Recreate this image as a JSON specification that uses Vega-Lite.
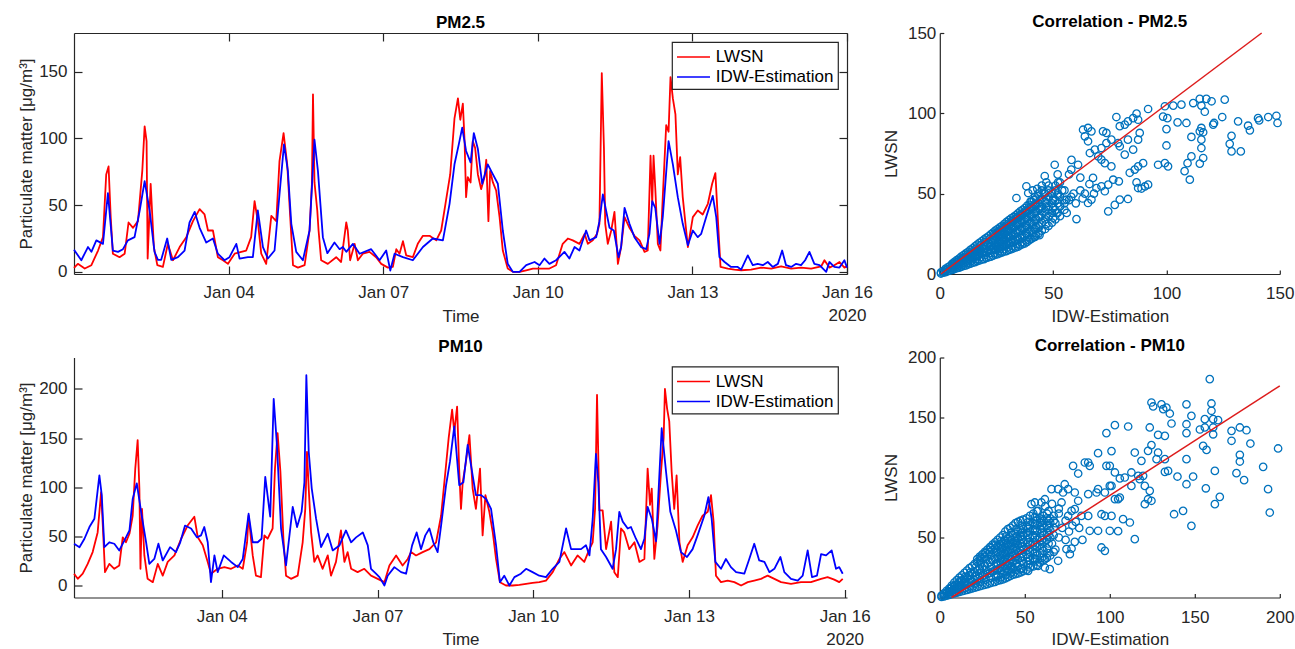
{
"$schema":"https://vega.github.io/schema/vega-lite/v6.json",
"padding":{"left":16,"top":13,"right":5,"bottom":5},
"background":"white",
"config":{
"font":"Liberation Sans",
"view":{"stroke":null},
"axis":{"grid":false,"domainColor":"#262626","domainWidth":1.2,"tickColor":"#262626","tickWidth":1.2,"tickSize":-8,"labelColor":"#262626","labelFont":"Liberation Sans","labelFontSize":17,"labelPadding":15,"labelFlush":false,"labelOverlap":false,"labelBound":false,"titleColor":"#262626","titleFont":"Liberation Sans","titleFontSize":17,"titleFontWeight":"normal"},
"title":{"font":"Liberation Sans","fontSize":17,"fontWeight":"bold","color":"#000000","anchor":"middle","baseline":"alphabetic","offset":7},
"legend":{"orient":"top-right","offset":9,"padding":4,"strokeColor":"#262626","strokeWidth":1.2,"fillColor":"#ffffff","labelFont":"Liberation Sans","labelFontSize":17,"labelColor":"#000000","symbolType":"M-1,0H2.3","symbolSize":400,"symbolStrokeWidth":1.7,"labelOffset":17.7,"rowPadding":1}
},
"datasets":{
"pm25":[
{"t":"2020-01-01T00:00","s":"LWSN","v":3},{"t":"2020-01-01T01:48","s":"LWSN","v":6},{"t":"2020-01-01T05:00","s":"LWSN","v":2.5},{"t":"2020-01-01T08:06","s":"LWSN","v":5},{"t":"2020-01-01T11:12","s":"LWSN","v":16},{"t":"2020-01-01T13:30","s":"LWSN","v":26},{"t":"2020-01-01T15:00","s":"LWSN","v":73},{"t":"2020-01-01T16:06","s":"LWSN","v":79},{"t":"2020-01-01T17:06","s":"LWSN","v":41},{"t":"2020-01-01T18:06","s":"LWSN","v":13.6},{"t":"2020-01-01T21:12","s":"LWSN","v":11},{"t":"2020-01-01T23:36","s":"LWSN","v":13.6},
{"t":"2020-01-02T01:24","s":"LWSN","v":37},{"t":"2020-01-02T03:30","s":"LWSN","v":33},{"t":"2020-01-02T05:48","s":"LWSN","v":38},{"t":"2020-01-02T07:48","s":"LWSN","v":75.7},{"t":"2020-01-02T08:54","s":"LWSN","v":109},{"t":"2020-01-02T09:48","s":"LWSN","v":98},{"t":"2020-01-02T10:18","s":"LWSN","v":10},{"t":"2020-01-02T11:42","s":"LWSN","v":66},{"t":"2020-01-02T13:12","s":"LWSN","v":18.6},{"t":"2020-01-02T14:48","s":"LWSN","v":5},{"t":"2020-01-02T17:24","s":"LWSN","v":3.7},{"t":"2020-01-02T19:42","s":"LWSN","v":21},{"t":"2020-01-02T22:06","s":"LWSN","v":8.7},
{"t":"2020-01-03T01:12","s":"LWSN","v":18.6},{"t":"2020-01-03T04:18","s":"LWSN","v":26},{"t":"2020-01-03T07:24","s":"LWSN","v":38},{"t":"2020-01-03T10:30","s":"LWSN","v":47},{"t":"2020-01-03T12:48","s":"LWSN","v":43},{"t":"2020-01-03T14:24","s":"LWSN","v":31},{"t":"2020-01-03T16:42","s":"LWSN","v":31},{"t":"2020-01-03T19:00","s":"LWSN","v":11},{"t":"2020-01-03T21:24","s":"LWSN","v":8.7},{"t":"2020-01-03T23:42","s":"LWSN","v":6},
{"t":"2020-01-04T02:48","s":"LWSN","v":13.6},{"t":"2020-01-04T05:54","s":"LWSN","v":15},{"t":"2020-01-04T08:12","s":"LWSN","v":16},{"t":"2020-01-04T10:30","s":"LWSN","v":26},{"t":"2020-01-04T12:06","s":"LWSN","v":53},{"t":"2020-01-04T13:36","s":"LWSN","v":38},{"t":"2020-01-04T15:12","s":"LWSN","v":13.6},{"t":"2020-01-04T17:30","s":"LWSN","v":6},{"t":"2020-01-04T19:54","s":"LWSN","v":42},{"t":"2020-01-04T22:12","s":"LWSN","v":38},{"t":"2020-01-04T23:42","s":"LWSN","v":83},
{"t":"2020-01-05T01:36","s":"LWSN","v":104},{"t":"2020-01-05T03:18","s":"LWSN","v":80.6},{"t":"2020-01-05T04:42","s":"LWSN","v":41},{"t":"2020-01-05T06:00","s":"LWSN","v":5},{"t":"2020-01-05T08:18","s":"LWSN","v":3.2},{"t":"2020-01-05T11:24","s":"LWSN","v":5},{"t":"2020-01-05T13:42","s":"LWSN","v":31},{"t":"2020-01-05T14:48","s":"LWSN","v":66},{"t":"2020-01-05T15:18","s":"LWSN","v":133},{"t":"2020-01-05T16:00","s":"LWSN","v":67},{"t":"2020-01-05T17:18","s":"LWSN","v":46},{"t":"2020-01-05T17:54","s":"LWSN","v":31},{"t":"2020-01-05T19:06","s":"LWSN","v":8.7},{"t":"2020-01-05T22:12","s":"LWSN","v":6},
{"t":"2020-01-06T02:06","s":"LWSN","v":11},{"t":"2020-01-06T04:24","s":"LWSN","v":7.4},{"t":"2020-01-06T06:48","s":"LWSN","v":37},{"t":"2020-01-06T07:30","s":"LWSN","v":31},{"t":"2020-01-06T08:36","s":"LWSN","v":8.7},{"t":"2020-01-06T10:42","s":"LWSN","v":21},{"t":"2020-01-06T12:12","s":"LWSN","v":8.7},{"t":"2020-01-06T14:30","s":"LWSN","v":13.6},{"t":"2020-01-06T17:36","s":"LWSN","v":15},{"t":"2020-01-06T20:42","s":"LWSN","v":11},{"t":"2020-01-06T23:06","s":"LWSN","v":6},
{"t":"2020-01-07T02:12","s":"LWSN","v":3.2},{"t":"2020-01-07T04:30","s":"LWSN","v":3.7},{"t":"2020-01-07T06:06","s":"LWSN","v":17},{"t":"2020-01-07T07:36","s":"LWSN","v":13.6},{"t":"2020-01-07T09:12","s":"LWSN","v":23},{"t":"2020-01-07T10:42","s":"LWSN","v":12.4},{"t":"2020-01-07T13:48","s":"LWSN","v":11},{"t":"2020-01-07T16:06","s":"LWSN","v":21},{"t":"2020-01-07T18:30","s":"LWSN","v":27},{"t":"2020-01-07T21:36","s":"LWSN","v":27},
{"t":"2020-01-08T00:42","s":"LWSN","v":23.6},{"t":"2020-01-08T03:00","s":"LWSN","v":31},{"t":"2020-01-08T05:00","s":"LWSN","v":51},{"t":"2020-01-08T07:12","s":"LWSN","v":73},{"t":"2020-01-08T09:12","s":"LWSN","v":115},{"t":"2020-01-08T10:48","s":"LWSN","v":130},{"t":"2020-01-08T11:54","s":"LWSN","v":114},{"t":"2020-01-08T13:06","s":"LWSN","v":126},{"t":"2020-01-08T13:54","s":"LWSN","v":98},{"t":"2020-01-08T14:36","s":"LWSN","v":56},{"t":"2020-01-08T15:24","s":"LWSN","v":71},{"t":"2020-01-08T16:42","s":"LWSN","v":67},{"t":"2020-01-08T17:42","s":"LWSN","v":98},{"t":"2020-01-08T18:48","s":"LWSN","v":93},{"t":"2020-01-08T20:06","s":"LWSN","v":73},{"t":"2020-01-08T21:36","s":"LWSN","v":62},{"t":"2020-01-08T23:12","s":"LWSN","v":71},
{"t":"2020-01-09T00:00","s":"LWSN","v":84},{"t":"2020-01-09T01:00","s":"LWSN","v":38},{"t":"2020-01-09T01:48","s":"LWSN","v":75.7},{"t":"2020-01-09T03:06","s":"LWSN","v":67},{"t":"2020-01-09T04:36","s":"LWSN","v":61},{"t":"2020-01-09T06:12","s":"LWSN","v":41},{"t":"2020-01-09T07:42","s":"LWSN","v":16},{"t":"2020-01-09T10:00","s":"LWSN","v":2.5},{"t":"2020-01-09T12:24","s":"LWSN","v":0},{"t":"2020-01-09T15:30","s":"LWSN","v":0},{"t":"2020-01-09T18:36","s":"LWSN","v":1.2},{"t":"2020-01-09T21:42","s":"LWSN","v":2.5},
{"t":"2020-01-10T02:18","s":"LWSN","v":2.5},{"t":"2020-01-10T05:24","s":"LWSN","v":2.5},{"t":"2020-01-10T08:30","s":"LWSN","v":5},{"t":"2020-01-10T11:36","s":"LWSN","v":21},{"t":"2020-01-10T14:00","s":"LWSN","v":25},{"t":"2020-01-10T16:18","s":"LWSN","v":23.6},{"t":"2020-01-10T19:24","s":"LWSN","v":21},{"t":"2020-01-10T21:48","s":"LWSN","v":28.5},{"t":"2020-01-10T23:18","s":"LWSN","v":21},
{"t":"2020-01-11T01:36","s":"LWSN","v":23.6},{"t":"2020-01-11T03:36","s":"LWSN","v":28.5},{"t":"2020-01-11T04:42","s":"LWSN","v":36},{"t":"2020-01-11T05:48","s":"LWSN","v":149},{"t":"2020-01-11T06:48","s":"LWSN","v":93},{"t":"2020-01-11T07:24","s":"LWSN","v":36},{"t":"2020-01-11T08:36","s":"LWSN","v":21},{"t":"2020-01-11T10:12","s":"LWSN","v":31},{"t":"2020-01-11T11:42","s":"LWSN","v":45},{"t":"2020-01-11T13:18","s":"LWSN","v":6},{"t":"2020-01-11T14:48","s":"LWSN","v":18.6},{"t":"2020-01-11T16:24","s":"LWSN","v":41},{"t":"2020-01-11T18:42","s":"LWSN","v":33},{"t":"2020-01-11T21:00","s":"LWSN","v":27},{"t":"2020-01-11T23:24","s":"LWSN","v":23.6},
{"t":"2020-01-12T01:42","s":"LWSN","v":15},{"t":"2020-01-12T03:12","s":"LWSN","v":16},{"t":"2020-01-12T04:30","s":"LWSN","v":87},{"t":"2020-01-12T05:18","s":"LWSN","v":51},{"t":"2020-01-12T05:54","s":"LWSN","v":87},{"t":"2020-01-12T06:42","s":"LWSN","v":63},{"t":"2020-01-12T07:54","s":"LWSN","v":21},{"t":"2020-01-12T09:06","s":"LWSN","v":16},{"t":"2020-01-12T10:12","s":"LWSN","v":56},{"t":"2020-01-12T11:48","s":"LWSN","v":110},{"t":"2020-01-12T12:54","s":"LWSN","v":105},{"t":"2020-01-12T13:48","s":"LWSN","v":146},{"t":"2020-01-12T14:54","s":"LWSN","v":130},{"t":"2020-01-12T16:06","s":"LWSN","v":118},{"t":"2020-01-12T17:12","s":"LWSN","v":73},{"t":"2020-01-12T18:18","s":"LWSN","v":86},{"t":"2020-01-12T19:30","s":"LWSN","v":56},{"t":"2020-01-12T21:54","s":"LWSN","v":18.6},
{"t":"2020-01-13T00:12","s":"LWSN","v":41},{"t":"2020-01-13T02:30","s":"LWSN","v":46},{"t":"2020-01-13T04:48","s":"LWSN","v":43},{"t":"2020-01-13T07:12","s":"LWSN","v":51},{"t":"2020-01-13T09:12","s":"LWSN","v":66},{"t":"2020-01-13T10:42","s":"LWSN","v":74},{"t":"2020-01-13T11:48","s":"LWSN","v":41},{"t":"2020-01-13T13:06","s":"LWSN","v":3.7},{"t":"2020-01-13T16:30","s":"LWSN","v":2.5},{"t":"2020-01-13T19:36","s":"LWSN","v":1.7},{"t":"2020-01-13T22:42","s":"LWSN","v":1.2},
{"t":"2020-01-14T03:18","s":"LWSN","v":1.7},{"t":"2020-01-14T08:00","s":"LWSN","v":3.2},{"t":"2020-01-14T12:42","s":"LWSN","v":2.5},{"t":"2020-01-14T17:18","s":"LWSN","v":4.2},{"t":"2020-01-14T22:00","s":"LWSN","v":2.5},
{"t":"2020-01-15T02:36","s":"LWSN","v":3.2},{"t":"2020-01-15T07:18","s":"LWSN","v":2.5},{"t":"2020-01-15T12:00","s":"LWSN","v":4.2},{"t":"2020-01-15T13:30","s":"LWSN","v":8.7},{"t":"2020-01-15T15:48","s":"LWSN","v":3.2},{"t":"2020-01-15T18:06","s":"LWSN","v":5},{"t":"2020-01-15T20:30","s":"LWSN","v":7.4},{"t":"2020-01-15T22:48","s":"LWSN","v":3.2},{"t":"2020-01-16T00:00","s":"LWSN","v":4.2},
{"t":"2020-01-01T00:00","s":"IDW-Estimation","v":16.6},{"t":"2020-01-01T03:24","s":"IDW-Estimation","v":8.7},{"t":"2020-01-01T06:30","s":"IDW-Estimation","v":18.6},{"t":"2020-01-01T08:06","s":"IDW-Estimation","v":15},{"t":"2020-01-01T10:24","s":"IDW-Estimation","v":23.6},{"t":"2020-01-01T13:30","s":"IDW-Estimation","v":21},{"t":"2020-01-01T15:48","s":"IDW-Estimation","v":59},{"t":"2020-01-01T18:06","s":"IDW-Estimation","v":16},{"t":"2020-01-01T20:30","s":"IDW-Estimation","v":15},{"t":"2020-01-01T22:48","s":"IDW-Estimation","v":17},
{"t":"2020-01-02T01:06","s":"IDW-Estimation","v":23.6},{"t":"2020-01-02T04:12","s":"IDW-Estimation","v":26},{"t":"2020-01-02T06:36","s":"IDW-Estimation","v":46},{"t":"2020-01-02T08:54","s":"IDW-Estimation","v":68},{"t":"2020-01-02T11:12","s":"IDW-Estimation","v":46},{"t":"2020-01-02T13:30","s":"IDW-Estimation","v":15},{"t":"2020-01-02T15:06","s":"IDW-Estimation","v":9},{"t":"2020-01-02T16:36","s":"IDW-Estimation","v":9},{"t":"2020-01-02T19:24","s":"IDW-Estimation","v":25},{"t":"2020-01-02T21:18","s":"IDW-Estimation","v":9},
{"t":"2020-01-03T00:24","s":"IDW-Estimation","v":11},{"t":"2020-01-03T03:30","s":"IDW-Estimation","v":16},{"t":"2020-01-03T05:48","s":"IDW-Estimation","v":37},{"t":"2020-01-03T08:12","s":"IDW-Estimation","v":45},{"t":"2020-01-03T10:30","s":"IDW-Estimation","v":33},{"t":"2020-01-03T13:36","s":"IDW-Estimation","v":22},{"t":"2020-01-03T16:42","s":"IDW-Estimation","v":25},{"t":"2020-01-03T19:00","s":"IDW-Estimation","v":13.6},{"t":"2020-01-03T22:06","s":"IDW-Estimation","v":8.7},
{"t":"2020-01-04T00:24","s":"IDW-Estimation","v":11},{"t":"2020-01-04T03:36","s":"IDW-Estimation","v":21},{"t":"2020-01-04T05:06","s":"IDW-Estimation","v":10},{"t":"2020-01-04T09:00","s":"IDW-Estimation","v":11},{"t":"2020-01-04T11:18","s":"IDW-Estimation","v":11},{"t":"2020-01-04T13:36","s":"IDW-Estimation","v":46},{"t":"2020-01-04T16:00","s":"IDW-Estimation","v":18.6},{"t":"2020-01-04T18:18","s":"IDW-Estimation","v":10},{"t":"2020-01-04T21:24","s":"IDW-Estimation","v":16},{"t":"2020-01-04T23:42","s":"IDW-Estimation","v":58},
{"t":"2020-01-05T01:48","s":"IDW-Estimation","v":95.5},{"t":"2020-01-05T03:36","s":"IDW-Estimation","v":75.7},{"t":"2020-01-05T05:12","s":"IDW-Estimation","v":36},{"t":"2020-01-05T07:30","s":"IDW-Estimation","v":15},{"t":"2020-01-05T10:36","s":"IDW-Estimation","v":8.7},{"t":"2020-01-05T13:42","s":"IDW-Estimation","v":31},{"t":"2020-01-05T16:00","s":"IDW-Estimation","v":99},{"t":"2020-01-05T17:36","s":"IDW-Estimation","v":75.7},{"t":"2020-01-05T19:54","s":"IDW-Estimation","v":26},{"t":"2020-01-05T22:00","s":"IDW-Estimation","v":14},
{"t":"2020-01-06T01:18","s":"IDW-Estimation","v":22},{"t":"2020-01-06T03:42","s":"IDW-Estimation","v":17},{"t":"2020-01-06T05:12","s":"IDW-Estimation","v":18.6},{"t":"2020-01-06T06:48","s":"IDW-Estimation","v":15},{"t":"2020-01-06T09:54","s":"IDW-Estimation","v":21},{"t":"2020-01-06T13:00","s":"IDW-Estimation","v":13.6},{"t":"2020-01-06T18:24","s":"IDW-Estimation","v":17},{"t":"2020-01-06T22:18","s":"IDW-Estimation","v":8.7},
{"t":"2020-01-07T01:24","s":"IDW-Estimation","v":16},{"t":"2020-01-07T03:18","s":"IDW-Estimation","v":1},{"t":"2020-01-07T05:18","s":"IDW-Estimation","v":13.6},{"t":"2020-01-07T09:12","s":"IDW-Estimation","v":11},{"t":"2020-01-07T13:48","s":"IDW-Estimation","v":8.7},{"t":"2020-01-07T18:30","s":"IDW-Estimation","v":18.6},{"t":"2020-01-07T23:06","s":"IDW-Estimation","v":25},
{"t":"2020-01-08T03:48","s":"IDW-Estimation","v":23.6},{"t":"2020-01-08T06:54","s":"IDW-Estimation","v":51},{"t":"2020-01-08T09:12","s":"IDW-Estimation","v":80.6},{"t":"2020-01-08T11:12","s":"IDW-Estimation","v":95.5},{"t":"2020-01-08T12:48","s":"IDW-Estimation","v":108},{"t":"2020-01-08T14:36","s":"IDW-Estimation","v":90.6},{"t":"2020-01-08T16:42","s":"IDW-Estimation","v":82},{"t":"2020-01-08T18:12","s":"IDW-Estimation","v":104},{"t":"2020-01-08T20:06","s":"IDW-Estimation","v":92},{"t":"2020-01-08T22:06","s":"IDW-Estimation","v":66},
{"t":"2020-01-09T00:42","s":"IDW-Estimation","v":80.6},{"t":"2020-01-09T03:06","s":"IDW-Estimation","v":73},{"t":"2020-01-09T05:24","s":"IDW-Estimation","v":66},{"t":"2020-01-09T07:42","s":"IDW-Estimation","v":31},{"t":"2020-01-09T10:00","s":"IDW-Estimation","v":6},{"t":"2020-01-09T12:24","s":"IDW-Estimation","v":0},{"t":"2020-01-09T15:30","s":"IDW-Estimation","v":0},{"t":"2020-01-09T18:36","s":"IDW-Estimation","v":5},{"t":"2020-01-09T22:30","s":"IDW-Estimation","v":7.4},
{"t":"2020-01-10T00:48","s":"IDW-Estimation","v":5},{"t":"2020-01-10T03:06","s":"IDW-Estimation","v":10},{"t":"2020-01-10T05:24","s":"IDW-Estimation","v":6},{"t":"2020-01-10T08:30","s":"IDW-Estimation","v":8.7},{"t":"2020-01-10T12:24","s":"IDW-Estimation","v":15},{"t":"2020-01-10T14:42","s":"IDW-Estimation","v":10},{"t":"2020-01-10T17:06","s":"IDW-Estimation","v":18.6},{"t":"2020-01-10T19:24","s":"IDW-Estimation","v":16},{"t":"2020-01-10T22:30","s":"IDW-Estimation","v":31},
{"t":"2020-01-11T00:06","s":"IDW-Estimation","v":23.6},{"t":"2020-01-11T03:12","s":"IDW-Estimation","v":26},{"t":"2020-01-11T04:42","s":"IDW-Estimation","v":38},{"t":"2020-01-11T06:18","s":"IDW-Estimation","v":58},{"t":"2020-01-11T07:48","s":"IDW-Estimation","v":46},{"t":"2020-01-11T09:24","s":"IDW-Estimation","v":33},{"t":"2020-01-11T11:24","s":"IDW-Estimation","v":31},{"t":"2020-01-11T13:36","s":"IDW-Estimation","v":11},{"t":"2020-01-11T14:48","s":"IDW-Estimation","v":18.6},{"t":"2020-01-11T16:24","s":"IDW-Estimation","v":48},{"t":"2020-01-11T18:42","s":"IDW-Estimation","v":36},{"t":"2020-01-11T21:00","s":"IDW-Estimation","v":26},
{"t":"2020-01-12T00:06","s":"IDW-Estimation","v":18.6},{"t":"2020-01-12T02:30","s":"IDW-Estimation","v":17},{"t":"2020-01-12T04:00","s":"IDW-Estimation","v":28.5},{"t":"2020-01-12T05:18","s":"IDW-Estimation","v":53},{"t":"2020-01-12T06:42","s":"IDW-Estimation","v":48},{"t":"2020-01-12T08:42","s":"IDW-Estimation","v":21},{"t":"2020-01-12T10:12","s":"IDW-Estimation","v":41},{"t":"2020-01-12T12:54","s":"IDW-Estimation","v":98},{"t":"2020-01-12T14:54","s":"IDW-Estimation","v":80.6},{"t":"2020-01-12T17:12","s":"IDW-Estimation","v":56},{"t":"2020-01-12T19:30","s":"IDW-Estimation","v":36},{"t":"2020-01-12T21:54","s":"IDW-Estimation","v":20},
{"t":"2020-01-13T00:12","s":"IDW-Estimation","v":31},{"t":"2020-01-13T02:30","s":"IDW-Estimation","v":26},{"t":"2020-01-13T04:06","s":"IDW-Estimation","v":28.5},{"t":"2020-01-13T06:24","s":"IDW-Estimation","v":41},{"t":"2020-01-13T09:30","s":"IDW-Estimation","v":57},{"t":"2020-01-13T11:06","s":"IDW-Estimation","v":41},{"t":"2020-01-13T12:36","s":"IDW-Estimation","v":11},{"t":"2020-01-13T15:00","s":"IDW-Estimation","v":7.4},{"t":"2020-01-13T18:00","s":"IDW-Estimation","v":3.7},{"t":"2020-01-13T21:06","s":"IDW-Estimation","v":3.7},{"t":"2020-01-13T22:42","s":"IDW-Estimation","v":1.7},
{"t":"2020-01-14T01:48","s":"IDW-Estimation","v":12.4},{"t":"2020-01-14T04:06","s":"IDW-Estimation","v":5},{"t":"2020-01-14T06:24","s":"IDW-Estimation","v":6},{"t":"2020-01-14T08:48","s":"IDW-Estimation","v":5},{"t":"2020-01-14T11:06","s":"IDW-Estimation","v":7.4},{"t":"2020-01-14T13:24","s":"IDW-Estimation","v":3.7},{"t":"2020-01-14T15:48","s":"IDW-Estimation","v":6},{"t":"2020-01-14T17:48","s":"IDW-Estimation","v":16},{"t":"2020-01-14T19:36","s":"IDW-Estimation","v":5},{"t":"2020-01-14T22:00","s":"IDW-Estimation","v":3.7},
{"t":"2020-01-15T00:18","s":"IDW-Estimation","v":6},{"t":"2020-01-15T02:36","s":"IDW-Estimation","v":5},{"t":"2020-01-15T04:30","s":"IDW-Estimation","v":8.7},{"t":"2020-01-15T06:30","s":"IDW-Estimation","v":15},{"t":"2020-01-15T08:48","s":"IDW-Estimation","v":6},{"t":"2020-01-15T11:12","s":"IDW-Estimation","v":5},{"t":"2020-01-15T14:18","s":"IDW-Estimation","v":0},{"t":"2020-01-15T15:48","s":"IDW-Estimation","v":7.4},{"t":"2020-01-15T18:06","s":"IDW-Estimation","v":3.7},{"t":"2020-01-15T20:30","s":"IDW-Estimation","v":3.2},{"t":"2020-01-15T22:48","s":"IDW-Estimation","v":8.7},{"t":"2020-01-16T00:00","s":"IDW-Estimation","v":3.2}
],
"pm10":[
{"t":"2020-01-01T03:42","s":"LWSN","v":12},{"t":"2020-01-01T05:24","s":"LWSN","v":6.8},{"t":"2020-01-01T07:42","s":"LWSN","v":12},{"t":"2020-01-01T10:00","s":"LWSN","v":22},{"t":"2020-01-01T12:18","s":"LWSN","v":34},{"t":"2020-01-01T14:36","s":"LWSN","v":54},{"t":"2020-01-01T16:12","s":"LWSN","v":95},{"t":"2020-01-01T16:54","s":"LWSN","v":64.6},{"t":"2020-01-01T18:00","s":"LWSN","v":13.6},{"t":"2020-01-01T20:00","s":"LWSN","v":22},{"t":"2020-01-01T22:18","s":"LWSN","v":17},
{"t":"2020-01-02T00:36","s":"LWSN","v":20.4},{"t":"2020-01-02T02:12","s":"LWSN","v":49},{"t":"2020-01-02T03:42","s":"LWSN","v":44},{"t":"2020-01-02T05:18","s":"LWSN","v":52.7},{"t":"2020-01-02T06:48","s":"LWSN","v":71},{"t":"2020-01-02T08:00","s":"LWSN","v":119},{"t":"2020-01-02T09:06","s":"LWSN","v":148},{"t":"2020-01-02T09:54","s":"LWSN","v":98.6},{"t":"2020-01-02T10:24","s":"LWSN","v":17},{"t":"2020-01-02T11:06","s":"LWSN","v":78},{"t":"2020-01-02T12:12","s":"LWSN","v":30.6},{"t":"2020-01-02T13:42","s":"LWSN","v":6.8},{"t":"2020-01-02T16:06","s":"LWSN","v":3.4},{"t":"2020-01-02T18:24","s":"LWSN","v":22},{"t":"2020-01-02T20:42","s":"LWSN","v":10},{"t":"2020-01-02T23:00","s":"LWSN","v":24},
{"t":"2020-01-03T02:06","s":"LWSN","v":30.6},{"t":"2020-01-03T05:12","s":"LWSN","v":47.6},{"t":"2020-01-03T08:12","s":"LWSN","v":61},{"t":"2020-01-03T11:18","s":"LWSN","v":70},{"t":"2020-01-03T12:54","s":"LWSN","v":49},{"t":"2020-01-03T15:12","s":"LWSN","v":41},{"t":"2020-01-03T17:30","s":"LWSN","v":24},{"t":"2020-01-03T19:00","s":"LWSN","v":12},{"t":"2020-01-03T22:06","s":"LWSN","v":17},
{"t":"2020-01-04T01:12","s":"LWSN","v":18.7},{"t":"2020-01-04T04:18","s":"LWSN","v":17},{"t":"2020-01-04T07:24","s":"LWSN","v":20.4},{"t":"2020-01-04T09:42","s":"LWSN","v":17},{"t":"2020-01-04T11:42","s":"LWSN","v":44},{"t":"2020-01-04T12:24","s":"LWSN","v":71},{"t":"2020-01-04T14:18","s":"LWSN","v":30.6},{"t":"2020-01-04T15:48","s":"LWSN","v":10},{"t":"2020-01-04T18:06","s":"LWSN","v":8.5},{"t":"2020-01-04T19:42","s":"LWSN","v":51},{"t":"2020-01-04T21:12","s":"LWSN","v":47.6},{"t":"2020-01-04T23:30","s":"LWSN","v":58},
{"t":"2020-01-05T00:36","s":"LWSN","v":119},{"t":"2020-01-05T01:48","s":"LWSN","v":155},{"t":"2020-01-05T03:06","s":"LWSN","v":116},{"t":"2020-01-05T04:30","s":"LWSN","v":47.6},{"t":"2020-01-05T05:42","s":"LWSN","v":10},{"t":"2020-01-05T08:00","s":"LWSN","v":6.8},{"t":"2020-01-05T11:06","s":"LWSN","v":10},{"t":"2020-01-05T13:24","s":"LWSN","v":44},{"t":"2020-01-05T14:36","s":"LWSN","v":78},{"t":"2020-01-05T15:24","s":"LWSN","v":136},{"t":"2020-01-05T16:12","s":"LWSN","v":98.6},{"t":"2020-01-05T17:18","s":"LWSN","v":54},{"t":"2020-01-05T18:48","s":"LWSN","v":24},{"t":"2020-01-05T20:18","s":"LWSN","v":30.6},{"t":"2020-01-05T22:36","s":"LWSN","v":17},
{"t":"2020-01-06T01:00","s":"LWSN","v":30.6},{"t":"2020-01-06T02:30","s":"LWSN","v":10},{"t":"2020-01-06T04:48","s":"LWSN","v":24},{"t":"2020-01-06T07:06","s":"LWSN","v":56},{"t":"2020-01-06T08:42","s":"LWSN","v":24},{"t":"2020-01-06T10:12","s":"LWSN","v":34},{"t":"2020-01-06T11:48","s":"LWSN","v":17},{"t":"2020-01-06T14:48","s":"LWSN","v":13.6},{"t":"2020-01-06T17:54","s":"LWSN","v":17},{"t":"2020-01-06T21:00","s":"LWSN","v":10},
{"t":"2020-01-07T00:06","s":"LWSN","v":6.8},{"t":"2020-01-07T03:12","s":"LWSN","v":3.4},{"t":"2020-01-07T05:30","s":"LWSN","v":20.4},{"t":"2020-01-07T08:36","s":"LWSN","v":30.6},{"t":"2020-01-07T11:36","s":"LWSN","v":20.4},{"t":"2020-01-07T14:00","s":"LWSN","v":27},{"t":"2020-01-07T15:30","s":"LWSN","v":34},{"t":"2020-01-07T17:48","s":"LWSN","v":30.6},{"t":"2020-01-07T20:54","s":"LWSN","v":34},
{"t":"2020-01-08T00:00","s":"LWSN","v":37},{"t":"2020-01-08T03:06","s":"LWSN","v":44},{"t":"2020-01-08T05:24","s":"LWSN","v":71},{"t":"2020-01-08T07:24","s":"LWSN","v":116},{"t":"2020-01-08T08:54","s":"LWSN","v":150},{"t":"2020-01-08T10:30","s":"LWSN","v":179},{"t":"2020-01-08T11:30","s":"LWSN","v":156},{"t":"2020-01-08T12:48","s":"LWSN","v":182},{"t":"2020-01-08T13:48","s":"LWSN","v":116},{"t":"2020-01-08T14:36","s":"LWSN","v":78},{"t":"2020-01-08T15:24","s":"LWSN","v":105},{"t":"2020-01-08T16:54","s":"LWSN","v":126},{"t":"2020-01-08T18:30","s":"LWSN","v":153},{"t":"2020-01-08T20:00","s":"LWSN","v":98.6},{"t":"2020-01-08T21:30","s":"LWSN","v":78},{"t":"2020-01-08T23:24","s":"LWSN","v":119},
{"t":"2020-01-09T00:36","s":"LWSN","v":51},{"t":"2020-01-09T01:54","s":"LWSN","v":92},{"t":"2020-01-09T03:42","s":"LWSN","v":75},{"t":"2020-01-09T05:18","s":"LWSN","v":54},{"t":"2020-01-09T06:48","s":"LWSN","v":27},{"t":"2020-01-09T08:36","s":"LWSN","v":3.4},{"t":"2020-01-09T11:24","s":"LWSN","v":0},{"t":"2020-01-09T14:30","s":"LWSN","v":0},{"t":"2020-01-09T17:36","s":"LWSN","v":0.7},{"t":"2020-01-09T20:42","s":"LWSN","v":1.7},{"t":"2020-01-09T23:42","s":"LWSN","v":2.7},
{"t":"2020-01-10T02:48","s":"LWSN","v":3.4},{"t":"2020-01-10T05:54","s":"LWSN","v":5},{"t":"2020-01-10T09:00","s":"LWSN","v":13.6},{"t":"2020-01-10T12:06","s":"LWSN","v":27},{"t":"2020-01-10T14:24","s":"LWSN","v":34},{"t":"2020-01-10T17:30","s":"LWSN","v":20.4},{"t":"2020-01-10T20:30","s":"LWSN","v":30.6},{"t":"2020-01-10T23:36","s":"LWSN","v":24},
{"t":"2020-01-11T02:00","s":"LWSN","v":37},{"t":"2020-01-11T03:30","s":"LWSN","v":44},{"t":"2020-01-11T04:36","s":"LWSN","v":78},{"t":"2020-01-11T05:30","s":"LWSN","v":194},{"t":"2020-01-11T06:36","s":"LWSN","v":76.5},{"t":"2020-01-11T08:06","s":"LWSN","v":76.5},{"t":"2020-01-11T09:42","s":"LWSN","v":37},{"t":"2020-01-11T12:00","s":"LWSN","v":65},{"t":"2020-01-11T13:30","s":"LWSN","v":13.6},{"t":"2020-01-11T15:06","s":"LWSN","v":8.5},{"t":"2020-01-11T16:36","s":"LWSN","v":58},{"t":"2020-01-11T18:06","s":"LWSN","v":54},{"t":"2020-01-11T20:24","s":"LWSN","v":37},{"t":"2020-01-11T22:48","s":"LWSN","v":44},
{"t":"2020-01-12T01:06","s":"LWSN","v":24},{"t":"2020-01-12T03:24","s":"LWSN","v":27},{"t":"2020-01-12T04:54","s":"LWSN","v":119},{"t":"2020-01-12T06:00","s":"LWSN","v":82},{"t":"2020-01-12T06:48","s":"LWSN","v":98.6},{"t":"2020-01-12T08:00","s":"LWSN","v":27},{"t":"2020-01-12T09:30","s":"LWSN","v":61},{"t":"2020-01-12T11:06","s":"LWSN","v":116},{"t":"2020-01-12T12:18","s":"LWSN","v":150},{"t":"2020-01-12T12:54","s":"LWSN","v":200},{"t":"2020-01-12T13:54","s":"LWSN","v":180},{"t":"2020-01-12T14:54","s":"LWSN","v":167},{"t":"2020-01-12T16:00","s":"LWSN","v":116},{"t":"2020-01-12T17:12","s":"LWSN","v":78},{"t":"2020-01-12T18:18","s":"LWSN","v":112},{"t":"2020-01-12T19:36","s":"LWSN","v":44},{"t":"2020-01-12T21:06","s":"LWSN","v":24},{"t":"2020-01-12T23:24","s":"LWSN","v":41},
{"t":"2020-01-13T01:42","s":"LWSN","v":49},{"t":"2020-01-13T04:00","s":"LWSN","v":61},{"t":"2020-01-13T06:18","s":"LWSN","v":71},{"t":"2020-01-13T08:42","s":"LWSN","v":75},{"t":"2020-01-13T10:12","s":"LWSN","v":92},{"t":"2020-01-13T11:24","s":"LWSN","v":65},{"t":"2020-01-13T12:30","s":"LWSN","v":10},{"t":"2020-01-13T14:48","s":"LWSN","v":3.4},{"t":"2020-01-13T17:54","s":"LWSN","v":5},{"t":"2020-01-13T21:00","s":"LWSN","v":3.4},
{"t":"2020-01-14T00:06","s":"LWSN","v":0},{"t":"2020-01-14T03:12","s":"LWSN","v":3.4},{"t":"2020-01-14T06:12","s":"LWSN","v":5},{"t":"2020-01-14T09:18","s":"LWSN","v":6.8},{"t":"2020-01-14T12:24","s":"LWSN","v":10},{"t":"2020-01-14T15:30","s":"LWSN","v":6.8},{"t":"2020-01-14T18:36","s":"LWSN","v":3.4},{"t":"2020-01-14T23:12","s":"LWSN","v":1.7},
{"t":"2020-01-15T03:48","s":"LWSN","v":3.4},{"t":"2020-01-15T08:24","s":"LWSN","v":3.4},{"t":"2020-01-15T13:06","s":"LWSN","v":6.8},{"t":"2020-01-15T16:06","s":"LWSN","v":8.5},{"t":"2020-01-15T19:12","s":"LWSN","v":6},{"t":"2020-01-15T21:30","s":"LWSN","v":3.4},{"t":"2020-01-15T23:06","s":"LWSN","v":6.8},
{"t":"2020-01-01T03:42","s":"IDW-Estimation","v":42.5},{"t":"2020-01-01T06:12","s":"IDW-Estimation","v":39},{"t":"2020-01-01T08:30","s":"IDW-Estimation","v":47.6},{"t":"2020-01-01T10:48","s":"IDW-Estimation","v":59.5},{"t":"2020-01-01T13:06","s":"IDW-Estimation","v":68},{"t":"2020-01-01T15:24","s":"IDW-Estimation","v":112},{"t":"2020-01-01T16:30","s":"IDW-Estimation","v":92},{"t":"2020-01-01T17:42","s":"IDW-Estimation","v":39},{"t":"2020-01-01T20:00","s":"IDW-Estimation","v":44},{"t":"2020-01-01T22:18","s":"IDW-Estimation","v":42.5},
{"t":"2020-01-02T00:36","s":"IDW-Estimation","v":35.7},{"t":"2020-01-02T03:00","s":"IDW-Estimation","v":46},{"t":"2020-01-02T05:18","s":"IDW-Estimation","v":56},{"t":"2020-01-02T06:48","s":"IDW-Estimation","v":88},{"t":"2020-01-02T08:42","s":"IDW-Estimation","v":104},{"t":"2020-01-02T10:42","s":"IDW-Estimation","v":75},{"t":"2020-01-02T13:00","s":"IDW-Estimation","v":44},{"t":"2020-01-02T14:30","s":"IDW-Estimation","v":22},{"t":"2020-01-02T16:48","s":"IDW-Estimation","v":27},{"t":"2020-01-02T18:42","s":"IDW-Estimation","v":42.5},{"t":"2020-01-02T20:42","s":"IDW-Estimation","v":25.5},
{"t":"2020-01-03T00:06","s":"IDW-Estimation","v":39},{"t":"2020-01-03T02:48","s":"IDW-Estimation","v":34},{"t":"2020-01-03T04:48","s":"IDW-Estimation","v":44},{"t":"2020-01-03T07:00","s":"IDW-Estimation","v":61},{"t":"2020-01-03T09:48","s":"IDW-Estimation","v":58},{"t":"2020-01-03T12:30","s":"IDW-Estimation","v":49},{"t":"2020-01-03T14:24","s":"IDW-Estimation","v":51},{"t":"2020-01-03T15:54","s":"IDW-Estimation","v":59.5},{"t":"2020-01-03T17:30","s":"IDW-Estimation","v":44},{"t":"2020-01-03T19:00","s":"IDW-Estimation","v":3.4},{"t":"2020-01-03T20:36","s":"IDW-Estimation","v":30.6},{"t":"2020-01-03T22:06","s":"IDW-Estimation","v":13.6},
{"t":"2020-01-04T00:54","s":"IDW-Estimation","v":30.6},{"t":"2020-01-04T04:18","s":"IDW-Estimation","v":24},{"t":"2020-01-04T07:24","s":"IDW-Estimation","v":18.7},{"t":"2020-01-04T09:42","s":"IDW-Estimation","v":27},{"t":"2020-01-04T12:24","s":"IDW-Estimation","v":73},{"t":"2020-01-04T14:18","s":"IDW-Estimation","v":44},{"t":"2020-01-04T16:36","s":"IDW-Estimation","v":44},{"t":"2020-01-04T18:24","s":"IDW-Estimation","v":47.6},{"t":"2020-01-04T20:06","s":"IDW-Estimation","v":110.5},{"t":"2020-01-04T22:24","s":"IDW-Estimation","v":70},
{"t":"2020-01-05T00:00","s":"IDW-Estimation","v":190},{"t":"2020-01-05T01:30","s":"IDW-Estimation","v":143},{"t":"2020-01-05T03:24","s":"IDW-Estimation","v":58},{"t":"2020-01-05T05:42","s":"IDW-Estimation","v":20.4},{"t":"2020-01-05T08:48","s":"IDW-Estimation","v":80},{"t":"2020-01-05T10:48","s":"IDW-Estimation","v":59.5},{"t":"2020-01-05T12:54","s":"IDW-Estimation","v":75},{"t":"2020-01-05T14:12","s":"IDW-Estimation","v":105},{"t":"2020-01-05T15:06","s":"IDW-Estimation","v":214},{"t":"2020-01-05T16:12","s":"IDW-Estimation","v":136},{"t":"2020-01-05T17:36","s":"IDW-Estimation","v":98.6},{"t":"2020-01-05T19:36","s":"IDW-Estimation","v":68},{"t":"2020-01-05T21:54","s":"IDW-Estimation","v":39},
{"t":"2020-01-06T01:00","s":"IDW-Estimation","v":52.7},{"t":"2020-01-06T03:18","s":"IDW-Estimation","v":35.7},{"t":"2020-01-06T06:24","s":"IDW-Estimation","v":40.8},{"t":"2020-01-06T09:24","s":"IDW-Estimation","v":56},{"t":"2020-01-06T11:48","s":"IDW-Estimation","v":44},{"t":"2020-01-06T14:06","s":"IDW-Estimation","v":49},{"t":"2020-01-06T17:12","s":"IDW-Estimation","v":54},{"t":"2020-01-06T19:30","s":"IDW-Estimation","v":40.8},{"t":"2020-01-06T21:00","s":"IDW-Estimation","v":17},{"t":"2020-01-06T23:18","s":"IDW-Estimation","v":12},
{"t":"2020-01-07T00:54","s":"IDW-Estimation","v":8.5},{"t":"2020-01-07T03:12","s":"IDW-Estimation","v":0},{"t":"2020-01-07T04:42","s":"IDW-Estimation","v":10},{"t":"2020-01-07T07:48","s":"IDW-Estimation","v":18.7},{"t":"2020-01-07T10:54","s":"IDW-Estimation","v":13.6},{"t":"2020-01-07T13:12","s":"IDW-Estimation","v":12},{"t":"2020-01-07T16:00","s":"IDW-Estimation","v":40.8},{"t":"2020-01-07T18:06","s":"IDW-Estimation","v":54},{"t":"2020-01-07T20:06","s":"IDW-Estimation","v":37},{"t":"2020-01-07T22:06","s":"IDW-Estimation","v":51},
{"t":"2020-01-08T00:00","s":"IDW-Estimation","v":58},{"t":"2020-01-08T01:48","s":"IDW-Estimation","v":44},{"t":"2020-01-08T03:48","s":"IDW-Estimation","v":34},{"t":"2020-01-08T05:24","s":"IDW-Estimation","v":61},{"t":"2020-01-08T07:42","s":"IDW-Estimation","v":102},{"t":"2020-01-08T09:30","s":"IDW-Estimation","v":126},{"t":"2020-01-08T11:30","s":"IDW-Estimation","v":162},{"t":"2020-01-08T13:48","s":"IDW-Estimation","v":102},{"t":"2020-01-08T15:42","s":"IDW-Estimation","v":105},{"t":"2020-01-08T17:42","s":"IDW-Estimation","v":143},{"t":"2020-01-08T20:00","s":"IDW-Estimation","v":112},{"t":"2020-01-08T21:30","s":"IDW-Estimation","v":92},{"t":"2020-01-08T23:54","s":"IDW-Estimation","v":92},
{"t":"2020-01-09T02:12","s":"IDW-Estimation","v":88},{"t":"2020-01-09T04:30","s":"IDW-Estimation","v":78},{"t":"2020-01-09T06:48","s":"IDW-Estimation","v":41},{"t":"2020-01-09T08:36","s":"IDW-Estimation","v":3.4},{"t":"2020-01-09T10:36","s":"IDW-Estimation","v":10},{"t":"2020-01-09T13:00","s":"IDW-Estimation","v":0},{"t":"2020-01-09T15:18","s":"IDW-Estimation","v":8.5},{"t":"2020-01-09T18:18","s":"IDW-Estimation","v":12},{"t":"2020-01-09T20:42","s":"IDW-Estimation","v":17},{"t":"2020-01-09T23:42","s":"IDW-Estimation","v":13.6},
{"t":"2020-01-10T02:48","s":"IDW-Estimation","v":10},{"t":"2020-01-10T05:54","s":"IDW-Estimation","v":8.5},{"t":"2020-01-10T09:00","s":"IDW-Estimation","v":17},{"t":"2020-01-10T12:06","s":"IDW-Estimation","v":24},{"t":"2020-01-10T15:12","s":"IDW-Estimation","v":58},{"t":"2020-01-10T17:30","s":"IDW-Estimation","v":37},{"t":"2020-01-10T19:48","s":"IDW-Estimation","v":37},{"t":"2020-01-10T22:06","s":"IDW-Estimation","v":37},
{"t":"2020-01-11T00:24","s":"IDW-Estimation","v":41},{"t":"2020-01-11T02:00","s":"IDW-Estimation","v":30.6},{"t":"2020-01-11T03:30","s":"IDW-Estimation","v":68},{"t":"2020-01-11T05:00","s":"IDW-Estimation","v":134},{"t":"2020-01-11T06:06","s":"IDW-Estimation","v":105},{"t":"2020-01-11T07:18","s":"IDW-Estimation","v":37},{"t":"2020-01-11T09:42","s":"IDW-Estimation","v":29},{"t":"2020-01-11T12:42","s":"IDW-Estimation","v":17},{"t":"2020-01-11T14:18","s":"IDW-Estimation","v":37},{"t":"2020-01-11T15:48","s":"IDW-Estimation","v":75},{"t":"2020-01-11T17:24","s":"IDW-Estimation","v":65},{"t":"2020-01-11T19:42","s":"IDW-Estimation","v":58},{"t":"2020-01-11T21:12","s":"IDW-Estimation","v":59.5},{"t":"2020-01-11T23:30","s":"IDW-Estimation","v":47.6},
{"t":"2020-01-12T01:48","s":"IDW-Estimation","v":37},{"t":"2020-01-12T03:24","s":"IDW-Estimation","v":47.6},{"t":"2020-01-12T04:54","s":"IDW-Estimation","v":80},{"t":"2020-01-12T06:48","s":"IDW-Estimation","v":68},{"t":"2020-01-12T08:48","s":"IDW-Estimation","v":45},{"t":"2020-01-12T11:24","s":"IDW-Estimation","v":160},{"t":"2020-01-12T13:24","s":"IDW-Estimation","v":116},{"t":"2020-01-12T15:24","s":"IDW-Estimation","v":75},{"t":"2020-01-12T18:00","s":"IDW-Estimation","v":56},{"t":"2020-01-12T20:18","s":"IDW-Estimation","v":34},{"t":"2020-01-12T23:06","s":"IDW-Estimation","v":29},
{"t":"2020-01-13T01:42","s":"IDW-Estimation","v":37},{"t":"2020-01-13T04:00","s":"IDW-Estimation","v":51},{"t":"2020-01-13T07:06","s":"IDW-Estimation","v":71},{"t":"2020-01-13T09:00","s":"IDW-Estimation","v":90},{"t":"2020-01-13T10:30","s":"IDW-Estimation","v":68},{"t":"2020-01-13T12:12","s":"IDW-Estimation","v":24},{"t":"2020-01-13T14:48","s":"IDW-Estimation","v":17},{"t":"2020-01-13T17:06","s":"IDW-Estimation","v":27},{"t":"2020-01-13T19:24","s":"IDW-Estimation","v":18.7},{"t":"2020-01-13T21:48","s":"IDW-Estimation","v":13.6},
{"t":"2020-01-14T01:36","s":"IDW-Estimation","v":12},{"t":"2020-01-14T03:54","s":"IDW-Estimation","v":27},{"t":"2020-01-14T06:12","s":"IDW-Estimation","v":42.5},{"t":"2020-01-14T08:30","s":"IDW-Estimation","v":25.5},{"t":"2020-01-14T10:54","s":"IDW-Estimation","v":24},{"t":"2020-01-14T13:12","s":"IDW-Estimation","v":13.6},{"t":"2020-01-14T15:30","s":"IDW-Estimation","v":17},{"t":"2020-01-14T18:18","s":"IDW-Estimation","v":29},{"t":"2020-01-14T20:06","s":"IDW-Estimation","v":13.6},{"t":"2020-01-14T23:12","s":"IDW-Estimation","v":6.8},
{"t":"2020-01-15T02:18","s":"IDW-Estimation","v":5},{"t":"2020-01-15T04:36","s":"IDW-Estimation","v":10},{"t":"2020-01-15T06:54","s":"IDW-Estimation","v":35.7},{"t":"2020-01-15T08:54","s":"IDW-Estimation","v":8.5},{"t":"2020-01-15T11:12","s":"IDW-Estimation","v":10},{"t":"2020-01-15T13:06","s":"IDW-Estimation","v":32},{"t":"2020-01-15T15:24","s":"IDW-Estimation","v":30.6},{"t":"2020-01-15T18:00","s":"IDW-Estimation","v":35.7},{"t":"2020-01-15T20:00","s":"IDW-Estimation","v":17},{"t":"2020-01-15T21:30","s":"IDW-Estimation","v":18.7},{"t":"2020-01-15T23:06","s":"IDW-Estimation","v":12}
],
"sc25":[
{"x":0.5,"y":0.3},{"x":0.5,"y":1},{"x":1.5,"y":0.8},{"x":1.5,"y":1.8},{"x":2.5,"y":1.2},{"x":2.5,"y":2.3},{"x":2.5,"y":3.2},{"x":3.5,"y":1.7},{"x":3.5,"y":3},{"x":3.5,"y":4.2},{"x":4.5,"y":2.2},{"x":4.5,"y":3.5},{"x":4.5,"y":5},
{"x":5.5,"y":2.6},{"x":5.5,"y":4.2},{"x":5.5,"y":5.8},{"x":5.5,"y":6.5},{"x":6.5,"y":3.1},{"x":6.5,"y":4.8},{"x":6.5,"y":6.5},{"x":6.5,"y":7.6},{"x":7.5,"y":3.6},{"x":7.5,"y":5.4},{"x":7.5,"y":7.2},{"x":7.5,"y":8.6},
{"x":8.5,"y":4},{"x":8.5,"y":6},{"x":8.5,"y":8},{"x":8.5,"y":9.6},{"x":9.5,"y":4.5},{"x":9.5,"y":6.6},{"x":9.5,"y":8.8},{"x":9.5,"y":10.8},{"x":10.5,"y":5},{"x":10.5,"y":7.2},{"x":10.5,"y":9.5},{"x":10.5,"y":11.8},
{"x":11.5,"y":5.4},{"x":11.5,"y":7.8},{"x":11.5,"y":10.2},{"x":11.5,"y":12.8},{"x":12.5,"y":6},{"x":12.5,"y":8.5},{"x":12.5,"y":11},{"x":12.5,"y":13.8},{"x":13.5,"y":6.5},{"x":13.5,"y":9.2},{"x":13.5,"y":12},{"x":13.5,"y":15},
{"x":14.5,"y":7},{"x":14.5,"y":10},{"x":14.5,"y":13},{"x":14.5,"y":16},{"x":15.5,"y":7.4},{"x":15.5,"y":10.6},{"x":15.5,"y":13.8},{"x":15.5,"y":17.2},{"x":16.5,"y":8},{"x":16.5,"y":11.3},{"x":16.5,"y":14.6},{"x":16.5,"y":18.3},
{"x":17.5,"y":8.4},{"x":17.5,"y":12},{"x":17.5,"y":15.5},{"x":17.5,"y":19.4},{"x":18.5,"y":9},{"x":18.5,"y":12.6},{"x":18.5,"y":16.4},{"x":18.5,"y":20.4},{"x":19.5,"y":9.3},{"x":19.5,"y":13.3},{"x":19.5,"y":17.2},{"x":19.5,"y":21.5},
{"x":20.5,"y":10},{"x":20.5,"y":14},{"x":20.5,"y":18},{"x":20.5,"y":22.5},{"x":21.5,"y":10.4},{"x":21.5,"y":14.8},{"x":21.5,"y":19},{"x":21.5,"y":23.5},{"x":22.5,"y":10.8},{"x":22.5,"y":15.3},{"x":22.5,"y":19.8},{"x":22.5,"y":24.7},
{"x":23.5,"y":11.4},{"x":23.5,"y":16},{"x":23.5,"y":20.6},{"x":23.5,"y":25.8},
{"x":24.5,"y":12},{"x":24.5,"y":15},{"x":24.5,"y":18},{"x":24.5,"y":21},{"x":24.5,"y":24},{"x":24.5,"y":27},
{"x":25.5,"y":12.3},{"x":25.5,"y":15.5},{"x":25.5,"y":19},{"x":25.5,"y":22.5},{"x":25.5,"y":25.5},{"x":25.5,"y":28},
{"x":26.5,"y":13},{"x":26.5,"y":16.5},{"x":26.5,"y":20},{"x":26.5,"y":23.2},{"x":26.5,"y":26.5},{"x":26.5,"y":29},
{"x":27.5,"y":13.5},{"x":27.5,"y":17},{"x":27.5,"y":20.5},{"x":27.5,"y":24},{"x":27.5,"y":27.5},{"x":27.5,"y":30},
{"x":28.5,"y":14},{"x":28.5,"y":17.5},{"x":28.5,"y":21},{"x":28.5,"y":25},{"x":28.5,"y":28.5},{"x":28.5,"y":31.2},
{"x":29.5,"y":14.3},{"x":29.5,"y":18},{"x":29.5,"y":22},{"x":29.5,"y":26},{"x":29.5,"y":29.5},{"x":29.5,"y":32.4},
{"x":30.5,"y":15},{"x":30.5,"y":19},{"x":30.5,"y":23},{"x":30.5,"y":27},{"x":30.5,"y":30.5},{"x":30.5,"y":33.5},
{"x":31.5,"y":15.4},{"x":31.5,"y":19.5},{"x":31.5,"y":23.5},{"x":31.5,"y":28},{"x":31.5,"y":31.5},{"x":31.5,"y":34.6},
{"x":32.5,"y":16},{"x":32.5,"y":20},{"x":32.5,"y":24.5},{"x":32.5,"y":29},{"x":32.5,"y":33},{"x":32.5,"y":35.5},
{"x":33.5,"y":16.6},{"x":33.5,"y":21},{"x":33.5,"y":25.5},{"x":33.5,"y":30},{"x":33.5,"y":34},{"x":33.5,"y":36.5},
{"x":34.5,"y":17},{"x":34.5,"y":21.5},{"x":34.5,"y":26},{"x":34.5,"y":31},{"x":34.5,"y":35},{"x":34.5,"y":37.8},
{"x":35.5,"y":18},{"x":35.5,"y":22.5},{"x":35.5,"y":27},{"x":35.5,"y":32},{"x":35.5,"y":36},{"x":35.5,"y":39},
{"x":36.5,"y":18.6},{"x":36.5,"y":23},{"x":36.5,"y":28},{"x":36.5,"y":33},{"x":36.5,"y":37},{"x":36.5,"y":40},
{"x":37.5,"y":19},{"x":37.5,"y":24},{"x":37.5,"y":29},{"x":37.5,"y":34},{"x":37.5,"y":38},{"x":37.5,"y":41},
{"x":38.5,"y":20},{"x":38.5,"y":25},{"x":38.5,"y":30},{"x":38.5,"y":35},{"x":38.5,"y":39},{"x":38.5,"y":42.5},
{"x":39.5,"y":21},{"x":39.5,"y":26},{"x":39.5,"y":31},{"x":39.5,"y":36},{"x":39.5,"y":40},{"x":39.5,"y":43},
{"x":40.5,"y":22},{"x":40.5,"y":27},{"x":40.5,"y":32},{"x":40.5,"y":37},{"x":40.5,"y":41},{"x":40.5,"y":45},
{"x":41.5,"y":23},{"x":41.5,"y":28},{"x":41.5,"y":33},{"x":41.5,"y":38},{"x":41.5,"y":42},{"x":41.5,"y":46},
{"x":42.5,"y":24},{"x":42.5,"y":29},{"x":42.5,"y":34},{"x":42.5,"y":39},{"x":42.5,"y":43},{"x":42.5,"y":47},
{"x":43.5,"y":25},{"x":43.5,"y":30},{"x":43.5,"y":35},{"x":43.5,"y":40},{"x":43.5,"y":44},{"x":43.5,"y":50},
{"x":45,"y":27},{"x":45,"y":32},{"x":45,"y":37},{"x":45,"y":42},{"x":45,"y":47},{"x":45,"y":52},
{"x":46.5,"y":28},{"x":46.5,"y":34},{"x":46.5,"y":39},{"x":46.5,"y":45},{"x":46.5,"y":50},
{"x":48,"y":30},{"x":48,"y":36},{"x":48,"y":42},{"x":48,"y":48},{"x":48,"y":55},
{"x":49.5,"y":32},{"x":49.5,"y":38},{"x":49.5,"y":44},{"x":49.5,"y":50},{"x":51,"y":34},{"x":51,"y":40},{"x":51,"y":46},{"x":51,"y":52},
{"x":53,"y":36},{"x":53,"y":42},{"x":53,"y":48},{"x":53,"y":57},{"x":55,"y":40},{"x":55,"y":46},{"x":55,"y":52},
{"x":6,"y":3.5},{"x":6,"y":4.7},{"x":6,"y":5.9},{"x":8,"y":4.7},{"x":8,"y":6.2},{"x":8,"y":7.9},{"x":10,"y":5.9},{"x":10,"y":7.8},{"x":10,"y":9.9},{"x":12,"y":7.1},{"x":12,"y":9.4},{"x":12,"y":11.9},
{"x":14,"y":8.3},{"x":14,"y":10.9},{"x":14,"y":13.9},{"x":16,"y":9.4},{"x":16,"y":12.5},{"x":16,"y":15.8},{"x":18,"y":10.6},{"x":18,"y":14},{"x":18,"y":17.8},{"x":20,"y":11.8},{"x":20,"y":15.6},{"x":20,"y":19.8},
{"x":22,"y":13},{"x":22,"y":17.2},{"x":22,"y":21.8},{"x":24,"y":13.2},{"x":24,"y":16.1},{"x":24,"y":19.2},{"x":24,"y":22.1},{"x":24,"y":25},
{"x":26,"y":14.3},{"x":26,"y":17.4},{"x":26,"y":20.8},{"x":26,"y":23.9},{"x":26,"y":27},{"x":28,"y":15.4},{"x":28,"y":18.8},{"x":28,"y":22.4},{"x":28,"y":25.8},{"x":28,"y":29.1},
{"x":30,"y":16.5},{"x":30,"y":20.1},{"x":30,"y":24},{"x":30,"y":27.6},{"x":30,"y":31.2},{"x":32,"y":17.6},{"x":32,"y":21.4},{"x":32,"y":25.6},{"x":32,"y":29.4},{"x":32,"y":33.3},
{"x":34,"y":18.7},{"x":34,"y":22.8},{"x":34,"y":27.2},{"x":34,"y":31.3},{"x":34,"y":35.4},{"x":36,"y":19.8},{"x":36,"y":24.1},{"x":36,"y":28.8},{"x":36,"y":33.1},{"x":36,"y":37.4},
{"x":38,"y":20.9},{"x":38,"y":25.5},{"x":38,"y":30.4},{"x":38,"y":35},{"x":38,"y":39.5},{"x":40,"y":22},{"x":40,"y":26.8},{"x":40,"y":32},{"x":40,"y":36.8},{"x":40,"y":41.6},
{"x":42,"y":23.1},{"x":42,"y":28.1},{"x":42,"y":33.6},{"x":42,"y":38.6},{"x":42,"y":43.7},{"x":44,"y":24.2},{"x":44,"y":29.5},{"x":44,"y":35.2},{"x":44,"y":40.5},{"x":44,"y":45.8},
{"x":47,"y":31},{"x":47,"y":37},{"x":47,"y":42},{"x":47,"y":47},{"x":50,"y":35},{"x":50,"y":41},{"x":50,"y":47},{"x":52,"y":38},{"x":52,"y":44},{"x":52,"y":50},
{"x":148.5,"y":98.5},{"x":149,"y":94},{"x":144.9,"y":97.7},{"x":140.4,"y":97},{"x":140.9,"y":95.6},{"x":136,"y":92.3},{"x":136.8,"y":89.4},{"x":131.6,"y":95},{"x":128.7,"y":86},{"x":127.9,"y":81},{"x":128.7,"y":76.3},{"x":132.8,"y":76.3},
{"x":124.6,"y":97.7},{"x":125.7,"y":108.5},{"x":120.6,"y":93},{"x":121,"y":94},{"x":119.9,"y":107.5},{"x":117.6,"y":109},{"x":114.7,"y":109},{"x":115.4,"y":104.8},{"x":116.9,"y":101},{"x":111.8,"y":106.4},{"x":106.6,"y":105.4},{"x":103,"y":104.8},
{"x":99.3,"y":104.4},{"x":98.5,"y":98},{"x":100.4,"y":97},{"x":104.9,"y":94.4},{"x":108.8,"y":94},{"x":115.4,"y":90.9},{"x":114.7,"y":88.8},{"x":116.2,"y":88.2},{"x":111,"y":85.3},{"x":115.4,"y":83.6},{"x":115.4,"y":78.4},{"x":116.2,"y":72.2},
{"x":114.7,"y":68.7},{"x":111,"y":73.2},{"x":109.3,"y":69},{"x":108,"y":64},{"x":110.3,"y":58.7},{"x":100,"y":90.2},{"x":100,"y":80},{"x":99.3,"y":69},{"x":96.3,"y":68},{"x":100.7,"y":67},{"x":91.9,"y":55.6},{"x":87.5,"y":53.5},
{"x":89,"y":53.2},{"x":90.5,"y":54.5},{"x":86.8,"y":57},{"x":89.7,"y":69},{"x":87.5,"y":67},{"x":86,"y":65},{"x":83.8,"y":63},{"x":83,"y":46.7},{"x":79.4,"y":46.3},{"x":77.2,"y":43},{"x":74.3,"y":39},{"x":72.8,"y":51.5},
{"x":66.9,"y":46.3},{"x":65.4,"y":44.2},{"x":60.3,"y":34.2},{"x":55.9,"y":46.3},{"x":51.5,"y":38},{"x":58.1,"y":71},{"x":61,"y":68},{"x":50.7,"y":68},{"x":46.3,"y":61},{"x":52.2,"y":57},{"x":38.2,"y":54.6},{"x":39,"y":50.4},{"x":33.8,"y":47.3},
{"x":63.2,"y":89.8},{"x":65.4,"y":90.9},{"x":66.9,"y":88.8},{"x":64,"y":85.7},{"x":65.4,"y":82.6},{"x":66.2,"y":75.3},{"x":68.4,"y":77.4},{"x":69.9,"y":73.2},{"x":72,"y":88.8},{"x":73.5,"y":87.8},{"x":71.3,"y":71.2},{"x":72.8,"y":69},
{"x":75.7,"y":67},{"x":76.5,"y":58.7},{"x":79,"y":57.7},{"x":74.3,"y":55.6},{"x":71.3,"y":54.6},{"x":69.1,"y":53.5},{"x":67.6,"y":59.8},{"x":77.9,"y":97.7},{"x":79.4,"y":92},{"x":81.6,"y":93},{"x":83,"y":95},{"x":85.3,"y":97},
{"x":86.8,"y":99.8},{"x":91.9,"y":102.7},{"x":87.5,"y":96},{"x":88.2,"y":87.8},{"x":87.5,"y":83.6},{"x":85.3,"y":77.4},{"x":81.6,"y":74.3},{"x":79.4,"y":79.5},{"x":78.7,"y":81.5},{"x":75.7,"y":83.6},{"x":73.5,"y":81.5},{"x":71.3,"y":78.4},{"x":83,"y":83.6},
{"x":40,"y":45},{"x":42,"y":48},{"x":44,"y":42},{"x":46,"y":50},{"x":47,"y":44},{"x":48,"y":40},{"x":50,"y":46},{"x":52,"y":49},{"x":53,"y":42},{"x":55,"y":44},{"x":56,"y":38},{"x":58,"y":48},{"x":45,"y":55},{"x":43,"y":53},{"x":41,"y":52},
{"x":48,"y":52},{"x":51,"y":55},{"x":54,"y":52},{"x":57,"y":46},{"x":59,"y":50},{"x":62,"y":52},{"x":64,"y":50},{"x":60,"y":44},{"x":57,"y":62},{"x":52,"y":62},{"x":47,"y":57},{"x":58,"y":65},{"x":62,"y":60},{"x":66,"y":56},{"x":63,"y":47},{"x":68,"y":50}
],
"sc10":[
{"x":1,"y":0.5},{"x":1,"y":1.5},{"x":2.5,"y":1},{"x":2.5,"y":2.5},{"x":2.5,"y":3.5},{"x":4,"y":1.6},{"x":4,"y":3.5},{"x":4,"y":5.5},{"x":5.5,"y":2.2},{"x":5.5,"y":4.5},{"x":5.5,"y":7.5},
{"x":7,"y":2.8},{"x":7,"y":5.5},{"x":7,"y":8.5},{"x":7,"y":10},{"x":8.5,"y":3.4},{"x":8.5,"y":6.5},{"x":8.5,"y":9.5},{"x":8.5,"y":12.5},{"x":10,"y":4},{"x":10,"y":7.5},{"x":10,"y":11},{"x":10,"y":14.5},
{"x":11.5,"y":4.6},{"x":11.5,"y":8.5},{"x":11.5,"y":12.5},{"x":11.5,"y":16.5},{"x":13,"y":5.2},{"x":13,"y":9.5},{"x":13,"y":14},{"x":13,"y":18.5},{"x":14.5,"y":5.8},{"x":14.5,"y":10.5},{"x":14.5,"y":15.5},{"x":14.5,"y":20.5},
{"x":16,"y":6.4},{"x":16,"y":11.5},{"x":16,"y":17},{"x":16,"y":22.5},{"x":17.5,"y":7},{"x":17.5,"y":12.5},{"x":17.5,"y":18.5},{"x":17.5,"y":24.5},{"x":19,"y":7.6},{"x":19,"y":13.5},{"x":19,"y":20},{"x":19,"y":26},
{"x":20.5,"y":8.2},{"x":20.5,"y":14.5},{"x":20.5,"y":21},{"x":20.5,"y":28},{"x":22,"y":8.8},{"x":22,"y":15.5},{"x":22,"y":22.5},{"x":22,"y":29.5},{"x":22,"y":32},
{"x":23.5,"y":9.4},{"x":23.5,"y":16.5},{"x":23.5,"y":24},{"x":23.5,"y":31},{"x":23.5,"y":34},{"x":25,"y":10},{"x":25,"y":17.5},{"x":25,"y":25},{"x":25,"y":32.5},{"x":25,"y":36},
{"x":26.5,"y":10.6},{"x":26.5,"y":18.5},{"x":26.5,"y":26.5},{"x":26.5,"y":34},{"x":26.5,"y":38},{"x":28,"y":11.2},{"x":28,"y":19.5},{"x":28,"y":28},{"x":28,"y":36},{"x":28,"y":40},
{"x":29.5,"y":12},{"x":29.5,"y":20.5},{"x":29.5,"y":29.5},{"x":29.5,"y":38},{"x":29.5,"y":42},{"x":31,"y":12.5},{"x":31,"y":21.5},{"x":31,"y":31},{"x":31,"y":39.5},{"x":31,"y":44},
{"x":32.5,"y":13},{"x":32.5,"y":22.5},{"x":32.5,"y":32},{"x":32.5,"y":41},{"x":32.5,"y":46},
{"x":34,"y":14},{"x":34,"y":19},{"x":34,"y":23.5},{"x":34,"y":28.5},{"x":34,"y":33.5},{"x":34,"y":38},{"x":34,"y":43},{"x":34,"y":48},
{"x":35.5,"y":14.5},{"x":35.5,"y":24.5},{"x":35.5,"y":30},{"x":35.5,"y":35},{"x":35.5,"y":40},{"x":35.5,"y":44.5},{"x":35.5,"y":50},
{"x":37,"y":15},{"x":37,"y":20},{"x":37,"y":25.5},{"x":37,"y":31},{"x":37,"y":36},{"x":37,"y":41},{"x":37,"y":46},{"x":37,"y":52},
{"x":38.5,"y":16},{"x":38.5,"y":26.5},{"x":38.5,"y":32},{"x":38.5,"y":37},{"x":38.5,"y":42},{"x":38.5,"y":47.5},{"x":38.5,"y":55},
{"x":40,"y":17},{"x":40,"y":22},{"x":40,"y":27.5},{"x":40,"y":33},{"x":40,"y":38.5},{"x":40,"y":44},{"x":40,"y":49},{"x":40,"y":57},
{"x":41.5,"y":18},{"x":41.5,"y":28.5},{"x":41.5,"y":34},{"x":41.5,"y":40},{"x":41.5,"y":45},{"x":41.5,"y":50},{"x":41.5,"y":58},
{"x":43,"y":19},{"x":43,"y":24},{"x":43,"y":29.5},{"x":43,"y":35},{"x":43,"y":41},{"x":43,"y":46},{"x":43,"y":52},{"x":43,"y":60},
{"x":44.5,"y":19.5},{"x":44.5,"y":31},{"x":44.5,"y":36},{"x":44.5,"y":42},{"x":44.5,"y":47},{"x":44.5,"y":53},{"x":44.5,"y":62},
{"x":46,"y":20},{"x":46,"y":26},{"x":46,"y":32},{"x":46,"y":38},{"x":46,"y":44},{"x":46,"y":49},{"x":46,"y":55},{"x":46,"y":63},
{"x":47.5,"y":21},{"x":47.5,"y":33},{"x":47.5,"y":39},{"x":47.5,"y":45},{"x":47.5,"y":51},{"x":47.5,"y":56},{"x":47.5,"y":64},
{"x":49,"y":22},{"x":49,"y":28},{"x":49,"y":34},{"x":49,"y":40},{"x":49,"y":46},{"x":49,"y":52},{"x":49,"y":57},{"x":49,"y":65},
{"x":51,"y":23},{"x":51,"y":30},{"x":51,"y":36},{"x":51,"y":42},{"x":51,"y":48},{"x":51,"y":54},{"x":51,"y":59},{"x":51,"y":66},
{"x":53,"y":25},{"x":53,"y":31},{"x":53,"y":38},{"x":53,"y":44},{"x":53,"y":50},{"x":53,"y":55},{"x":53,"y":60},{"x":53,"y":68},
{"x":55,"y":26},{"x":55,"y":33},{"x":55,"y":40},{"x":55,"y":46},{"x":55,"y":52},{"x":55,"y":57},{"x":55,"y":62},{"x":55,"y":70},
{"x":57,"y":27},{"x":57,"y":35},{"x":57,"y":42},{"x":57,"y":48},{"x":57,"y":55},{"x":57,"y":60},{"x":57,"y":64},{"x":57,"y":72},
{"x":59,"y":29},{"x":59,"y":37},{"x":59,"y":44},{"x":59,"y":50},{"x":59,"y":57},{"x":59,"y":62},{"x":59,"y":66},
{"x":61,"y":31},{"x":61,"y":39},{"x":61,"y":46},{"x":61,"y":52},{"x":61,"y":58},{"x":61,"y":64},{"x":61,"y":68},
{"x":63,"y":33},{"x":63,"y":41},{"x":63,"y":48},{"x":63,"y":54},{"x":63,"y":60},{"x":63,"y":66},{"x":63,"y":70},
{"x":65,"y":35},{"x":65,"y":50},{"x":65,"y":56},{"x":65,"y":62},{"x":65,"y":66},{"x":67,"y":38},{"x":67,"y":52},{"x":67,"y":58},{"x":67,"y":64},{"x":67,"y":68},
{"x":6,"y":3},{"x":6,"y":5},{"x":6,"y":7},{"x":9,"y":4.2},{"x":9,"y":7.5},{"x":9,"y":10.5},{"x":12,"y":6.6},{"x":12,"y":10.2},{"x":12,"y":14},{"x":15,"y":8},{"x":15,"y":12.8},{"x":15,"y":17.5},
{"x":18,"y":9.5},{"x":18,"y":15},{"x":18,"y":21},{"x":21,"y":11.5},{"x":21,"y":18},{"x":21,"y":25},{"x":24,"y":13},{"x":24,"y":20.5},{"x":24,"y":28.5},{"x":24,"y":33},
{"x":27,"y":14.8},{"x":27,"y":23},{"x":27,"y":32},{"x":27,"y":37},{"x":30,"y":16.5},{"x":30,"y":25.5},{"x":30,"y":35},{"x":30,"y":41},{"x":33,"y":18},{"x":33,"y":28},{"x":33,"y":37},{"x":33,"y":44},
{"x":36,"y":17},{"x":36,"y":22},{"x":36,"y":27.5},{"x":36,"y":32.5},{"x":36,"y":37.5},{"x":36,"y":42.5},{"x":36,"y":47},
{"x":39,"y":19},{"x":39,"y":24},{"x":39,"y":29.5},{"x":39,"y":35},{"x":39,"y":40},{"x":39,"y":45.5},{"x":39,"y":51},
{"x":42,"y":21},{"x":42,"y":26},{"x":42,"y":32},{"x":42,"y":37.5},{"x":42,"y":43},{"x":42,"y":48},{"x":42,"y":54},
{"x":45,"y":23},{"x":45,"y":28.5},{"x":45,"y":34},{"x":45,"y":40},{"x":45,"y":45.5},{"x":45,"y":51},{"x":45,"y":57},
{"x":48,"y":24.5},{"x":48,"y":30.5},{"x":48,"y":36.5},{"x":48,"y":42.5},{"x":48,"y":48.5},{"x":48,"y":54},{"x":48,"y":60},
{"x":52,"y":27},{"x":52,"y":33.5},{"x":52,"y":40},{"x":52,"y":46},{"x":52,"y":52},{"x":52,"y":57.5},{"x":52,"y":63},
{"x":56,"y":30},{"x":56,"y":37},{"x":56,"y":44},{"x":56,"y":50},{"x":56,"y":56},{"x":56,"y":61},{"x":56,"y":67},
{"x":60,"y":33},{"x":60,"y":41},{"x":60,"y":48},{"x":60,"y":54},{"x":60,"y":60},{"x":60,"y":65},{"x":64,"y":37},{"x":64,"y":45},{"x":64,"y":52},{"x":64,"y":58},{"x":64,"y":64},
{"x":158.8,"y":182},{"x":159.8,"y":161.7},{"x":159.8,"y":155.6},{"x":160.8,"y":148.6},{"x":160.8,"y":141.7},{"x":160.8,"y":136},{"x":163.7,"y":147.8},{"x":155.9,"y":148.6},{"x":155.9,"y":141.7},{"x":154.9,"y":126.4},{"x":156.9,"y":123},{"x":153,"y":140},
{"x":148,"y":151.4},{"x":145.1,"y":161},{"x":145.1,"y":144.4},{"x":145.1,"y":137},{"x":145.1,"y":115.3},{"x":145.1,"y":94.4},{"x":149,"y":100.8},{"x":139.8,"y":100.8},{"x":137.8,"y":69.4},{"x":143.1,"y":72.2},{"x":148,"y":59.7},{"x":156.5,"y":91},
{"x":161.8,"y":105.5},{"x":161.8,"y":77.8},{"x":164.7,"y":83.9},{"x":171.6,"y":138.9},{"x":171.6,"y":130.6},{"x":176.5,"y":141.7},{"x":180.4,"y":139.4},{"x":182.7,"y":128.3},{"x":176.5,"y":118.9},{"x":176.5,"y":113.3},{"x":174.5,"y":103.6},{"x":179,"y":97.8},
{"x":190.2,"y":108.9},{"x":199,"y":124.2},{"x":193.1,"y":90.3},{"x":194.1,"y":70.8},{"x":131.4,"y":157},{"x":124.5,"y":162.5},{"x":125.5,"y":159.2},{"x":130.4,"y":161},{"x":133.3,"y":158.3},{"x":135.3,"y":153.3},{"x":136.3,"y":145},{"x":132.4,"y":134.7},
{"x":128.4,"y":135.5},{"x":123.5,"y":141.7},{"x":124.5,"y":127},{"x":128.4,"y":120.8},{"x":127.5,"y":115.3},{"x":132.4,"y":115.3},{"x":132.4,"y":104.7},{"x":134.3,"y":105.5},{"x":122.5,"y":122.2},{"x":110.8,"y":142.5},{"x":103,"y":143.6},{"x":98,"y":137},
{"x":101,"y":122},{"x":93.1,"y":120.3},{"x":85.3,"y":112.5},{"x":87.3,"y":112.5},{"x":88.2,"y":109.7},{"x":78.4,"y":109.7},{"x":81.4,"y":103.3},{"x":98,"y":109.7},{"x":100,"y":109.7},{"x":103,"y":104.2},{"x":105.9,"y":99.2},{"x":108.8,"y":100},
{"x":112.7,"y":104.2},{"x":114.7,"y":120.8},{"x":118.6,"y":113.9},{"x":116.7,"y":101.4},{"x":119.6,"y":101.4},{"x":120.6,"y":93},{"x":117.6,"y":98.6},{"x":112.7,"y":93},{"x":123.5,"y":88.9},{"x":124.5,"y":80.6},{"x":120.6,"y":77.8},{"x":122.5,"y":81.9},
{"x":105.9,"y":83.3},{"x":104.9,"y":82},{"x":103,"y":82},{"x":100,"y":93},{"x":101,"y":93},{"x":97.1,"y":87.5},{"x":93.1,"y":90.3},{"x":92.2,"y":87.5},{"x":87.3,"y":86.1},{"x":81.4,"y":80.6},{"x":79.4,"y":87.5},{"x":75.5,"y":90.3},
{"x":73.5,"y":94.4},{"x":75.5,"y":68},{"x":77.5,"y":72.2},{"x":79.4,"y":73.6},{"x":83.3,"y":68},{"x":87.3,"y":68},{"x":95.1,"y":69.4},{"x":97.1,"y":68},{"x":101,"y":68},{"x":107.8,"y":65.3},{"x":111.8,"y":62.5},{"x":114.7,"y":48.6},
{"x":104.9,"y":55.3},{"x":100,"y":55.6},{"x":88.2,"y":55.6},{"x":93.1,"y":55.6},{"x":83.9,"y":48},{"x":79.4,"y":46.4},{"x":77.5,"y":40.8},{"x":74.5,"y":40.3},{"x":76.5,"y":36.1},{"x":69.6,"y":30.6},{"x":95.1,"y":41.7},{"x":97.1,"y":38.9},
{"x":72.5,"y":87.5},{"x":69.6,"y":90.3},{"x":65.7,"y":90.3},{"x":71.6,"y":79.2},{"x":53.9,"y":77.8},{"x":55.9,"y":79.2},{"x":59.8,"y":79.2},{"x":61.8,"y":81.9},{"x":57.8,"y":72.2},{"x":33.3,"y":16.7},{"x":40.2,"y":26.4},{"x":42.2,"y":25},
{"x":48,"y":23.6},{"x":52,"y":22.2},{"x":57.8,"y":26.4},{"x":61.8,"y":25},{"x":64.7,"y":23.6},{"x":55.9,"y":31.9},{"x":61.8,"y":31.9},
{"x":66,"y":45},{"x":70,"y":50},{"x":72,"y":58},{"x":68,"y":62},{"x":74,"y":64},{"x":70,"y":70},{"x":76,"y":55},{"x":78,"y":60},{"x":64,"y":72},{"x":62,"y":76},{"x":66,"y":78},{"x":70,"y":74},{"x":80,"y":63},{"x":82,"y":58},{"x":74,"y":48},{"x":68,"y":40}
],
"fit25":[{"x":0.5,"y":0},{"x":142,"y":150}],
"fit10":[{"x":6.9,"y":0},{"x":200,"y":176.4}]
},
"columns":2,
"spacing":{"row":83.5,"column":92.8},
"bounds":"flush",
"align":"each",
"resolve":{"scale":{"color":"independent"},"legend":{"color":"independent"}},
"concat":[
{
"title":{"text":"PM2.5","offset":0},
"width":773,"height":241,
"data":{"name":"pm25"},
"layer":[
{"mark":{"type":"line","strokeWidth":1.8,"strokeJoin":"round"},
"encoding":{
"x":{"field":"t","type":"temporal","scale":{"domain":[{"year":2020,"month":1,"date":1},{"year":2020,"month":1,"date":16}]},
"axis":{"values":[{"year":2020,"month":1,"date":4},{"year":2020,"month":1,"date":7},{"year":2020,"month":1,"date":10},{"year":2020,"month":1,"date":13},{"year":2020,"month":1,"date":16}],"format":"%b %d","labelPadding":18.5,"labelExpr":"timeFormat(datum.value, '%d') == '16' ? ['Jan 16', '2020\u00a0\u00a0\u00a0\u00a0\u00a0\u00a0\u00a0\u00a0\u00a0\u00a0\u00a0\u00a0\u00a0\u00a0\u00a0'] : timeFormat(datum.value, '%b %d')","labelLineHeight":23,"title":"Time","titleY":42,"titleBaseline":"middle"}},
"y":{"field":"v","type":"quantitative","scale":{"domain":[-1.6,179],"nice":false,"zero":false},"axis":{"values":[0,50,100,150],"title":"Particulate matter [μg/m³]","titleX":-48,"titleBaseline":"middle"}},
"color":{"field":"s","type":"nominal","scale":{"domain":["LWSN","IDW-Estimation"],"range":["#ff0000","#0000ff"]},"legend":{"title":null}}
}},
{"mark":{"type":"line","opacity":0},
"encoding":{
"x":{"field":"t","type":"temporal","scale":{"domain":[{"year":2020,"month":1,"date":1},{"year":2020,"month":1,"date":16}]},
"axis":{"orient":"top","values":[{"year":2020,"month":1,"date":4},{"year":2020,"month":1,"date":7},{"year":2020,"month":1,"date":10},{"year":2020,"month":1,"date":13},{"year":2020,"month":1,"date":16}],"labels":false,"title":null}},
"y":{"field":"v","type":"quantitative","scale":{"domain":[-1.6,179],"nice":false,"zero":false},"axis":{"orient":"right","values":[0,50,100,150],"labels":false,"title":null}},
"detail":{"field":"s"}
}}
],
"resolve":{"axis":{"x":"independent","y":"independent"}}
},
{
"title":{"text":"Correlation - PM2.5","offset":-7},
"width":340,"height":241,
"layer":[
{"data":{"name":"sc25"},"mark":{"type":"point","shape":"circle","filled":false,"color":"#0072bd","size":55,"strokeWidth":1.3,"opacity":1},
"encoding":{
"x":{"field":"x","type":"quantitative","scale":{"domain":[0,150],"nice":false},"axis":{"values":[0,50,100,150],"title":"IDW-Estimation","tickSize":-4,"labelPadding":15.5,"titleY":42,"titleBaseline":"middle"}},
"y":{"field":"y","type":"quantitative","scale":{"domain":[0,150],"nice":false},"axis":{"values":[0,50,100,150],"title":"LWSN","tickSize":-4,"labelPadding":8,"titleX":-48,"titleBaseline":"middle"}}
}},
{"data":{"name":"fit25"},"mark":{"type":"line","color":"#dd1c1c","strokeWidth":1.5},
"encoding":{"x":{"field":"x","type":"quantitative"},"y":{"field":"y","type":"quantitative"}}}
]
},
{
"title":{"text":"PM10","offset":1.5},
"width":773,"height":240,
"data":{"name":"pm10"},
"mark":{"type":"line","strokeWidth":1.8,"strokeJoin":"round"},
"encoding":{
"x":{"field":"t","type":"temporal","scale":{"domain":[{"year":2020,"month":1,"date":1,"hours":3,"minutes":40},{"year":2020,"month":1,"date":16,"hours":1,"minutes":5}]},
"axis":{"values":[{"year":2020,"month":1,"date":4},{"year":2020,"month":1,"date":7},{"year":2020,"month":1,"date":10},{"year":2020,"month":1,"date":13},{"year":2020,"month":1,"date":16}],"format":"%b %d","labelPadding":18.5,"labelExpr":"timeFormat(datum.value, '%d') == '16' ? ['Jan 16', '2020\u00a0\u00a0\u00a0\u00a0\u00a0\u00a0\u00a0\u00a0\u00a0\u00a0\u00a0\u00a0\u00a0\u00a0\u00a0'] : timeFormat(datum.value, '%b %d')","labelLineHeight":23,"title":"Time","titleY":42,"titleBaseline":"middle"}},
"y":{"field":"v","type":"quantitative","scale":{"domain":[-12.2,232],"nice":false,"zero":false},"axis":{"values":[0,50,100,150,200],"title":"Particulate matter [μg/m³]","titleX":-48,"titleBaseline":"middle"}},
"color":{"field":"s","type":"nominal","scale":{"domain":["LWSN","IDW-Estimation"],"range":["#ff0000","#0000ff"]},"legend":{"title":null}}
}
},
{
"title":{"text":"Correlation - PM10","offset":-6.5},
"width":340,"height":240,
"layer":[
{"data":{"name":"sc10"},"mark":{"type":"point","shape":"circle","filled":false,"color":"#0072bd","size":55,"strokeWidth":1.3,"opacity":1},
"encoding":{
"x":{"field":"x","type":"quantitative","scale":{"domain":[0,200],"nice":false},"axis":{"values":[0,50,100,150,200],"title":"IDW-Estimation","tickSize":-4,"labelPadding":15.5,"titleY":42,"titleBaseline":"middle"}},
"y":{"field":"y","type":"quantitative","scale":{"domain":[0,200],"nice":false},"axis":{"values":[0,50,100,150,200],"title":"LWSN","tickSize":-4,"labelPadding":8,"titleX":-48,"titleBaseline":"middle"}}
}},
{"data":{"name":"fit10"},"mark":{"type":"line","color":"#dd1c1c","strokeWidth":1.5},
"encoding":{"x":{"field":"x","type":"quantitative"},"y":{"field":"y","type":"quantitative"}}}
]
}
]
}
